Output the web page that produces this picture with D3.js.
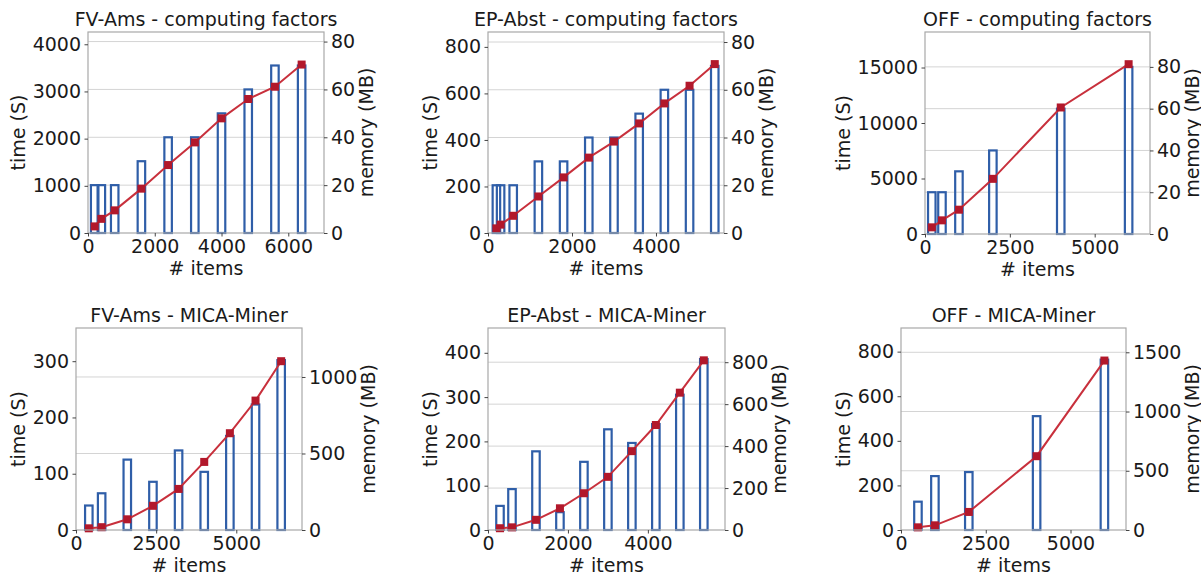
<!DOCTYPE html>
<html>
<head>
<meta charset="utf-8">
<script src="https://cdn.jsdelivr.net/npm/d3@7/dist/d3.min.js"></script>
<style>
  body { margin: 0; background: #fff; }
  text { font-family: "DejaVu Sans", sans-serif; fill: #1a1a1a; }
</style>
</head>
<body>
<div id="chart"></div>
<script>
// FV-Ams - computing factors
const fvCfItems = [200, 400, 800, 1600, 2400, 3200, 4000, 4800, 5600, 6400];
const fvCfMemory = [20, 20, 20, 30, 40, 40, 50, 60, 70, 70];
const fvCfTime = [140, 300, 480, 940, 1440, 1920, 2430, 2840, 3100, 3570];

// EP-Abst - computing factors
const epCfItems = [200, 300, 600, 1200, 1800, 2400, 3000, 3600, 4200, 4800, 5400];
const epCfMemory = [20, 20, 20, 30, 30, 40, 40, 50, 60, 60, 70];
const epCfTime = [20, 36, 74, 157, 239, 324, 393, 471, 557, 633, 726];

// OFF - computing factors
const offCfItems = [200, 500, 1000, 2000, 4000, 6000];
const offCfMemory = [20, 20, 30, 40, 60, 80];
const offCfTime = [600, 1230, 2190, 4970, 11400, 15300];

// FV-Ams - MICA-Miner
const fvMmItems = [400, 800, 1600, 2400, 3200, 4000, 4800, 5600, 6400];
const fvMmMemory = [160, 240, 460, 315, 520, 380, 615, 820, 1110];
const fvMmTime = [3, 5, 19, 43, 73, 121, 172, 230, 300];

// EP-Abst - MICA-Miner
const epMmItems = [300, 600, 1200, 1800, 2400, 3000, 3600, 4200, 4800, 5400];
const epMmMemory = [115, 195, 375, 85, 325, 480, 415, 505, 645, 815];
const epMmTime = [4, 6, 23, 49, 83, 120, 178, 237, 310, 383];

// OFF - MICA-Miner
const offMmItems = [500, 1000, 2000, 4000, 6000];
const offMmMemory = [239, 455, 489, 961, 1438];
const offMmTime = [12, 21, 81, 331, 760];

// tick values
const xTicks2000 = [0, 2000, 4000, 6000];
const xTicks2500 = [0, 2500, 5000];
const memTicks80 = [0, 20, 40, 60, 80];

const panels = [
  { title: 'FV-Ams - computing factors', items: fvCfItems, memory: fvCfMemory, time: fvCfTime,
    xTicks: xTicks2000, timeTicks: [0, 1000, 2000, 3000, 4000], memTicks: memTicks80,
    xMax: 7070, timeMax: 4260, memMax: 84, left: 88, top: 32, width: 236, height: 201 },
  { title: 'EP-Abst - computing factors', items: epCfItems, memory: epCfMemory, time: epCfTime,
    xTicks: [0, 2000, 4000], timeTicks: [0, 200, 400, 600, 800], memTicks: memTicks80,
    xMax: 5620, timeMax: 864, memMax: 84.2, left: 488, top: 32, width: 236, height: 201 },
  { title: 'OFF - computing factors', items: offCfItems, memory: offCfMemory, time: offCfTime,
    xTicks: xTicks2500, timeTicks: [0, 5000, 10000, 15000], memTicks: memTicks80,
    xMax: 6630, timeMax: 18200, memMax: 96.7, left: 925, top: 32, width: 225, height: 202 },
  { title: 'FV-Ams - MICA-Miner', items: fvMmItems, memory: fvMmMemory, time: fvMmTime,
    xTicks: xTicks2500, timeTicks: [0, 100, 200, 300], memTicks: [0, 500, 1000],
    xMax: 7050, timeMax: 359, memMax: 1320, left: 76, top: 328, width: 226, height: 202 },
  { title: 'EP-Abst - MICA-Miner', items: epMmItems, memory: epMmMemory, time: epMmTime,
    xTicks: [0, 2000, 4000], timeTicks: [0, 100, 200, 300, 400], memTicks: [0, 200, 400, 600, 800],
    xMax: 5930, timeMax: 456, memMax: 963, left: 488, top: 328, width: 237, height: 202 },
  { title: 'OFF - MICA-Miner', items: offMmItems, memory: offMmMemory, time: offMmTime,
    xTicks: xTicks2500, timeTicks: [0, 200, 400, 600, 800], memTicks: [0, 500, 1000, 1500],
    xMax: 6637, timeMax: 906, memMax: 1705, left: 901, top: 328, width: 225, height: 202 },
];

const W = 1201, H = 574;
const fontSize = 19;
const barColor = '#2f5ea8';
const lineColor = '#c8303c';
const markerColor = '#b2182b';
const barWidth = 7.5;
const markerSize = 8;

const svg = d3.select('#chart')
  .append('svg')
  .attr('width', W)
  .attr('height', H)
  .attr('xmlns', 'http://www.w3.org/2000/svg');

svg.append('rect').attr('width', W).attr('height', H).attr('fill', '#fff');

const plotPanel = (p) => {
  const g = svg.append('g').attr('transform', `translate(${p.left},${p.top})`);
  const w = p.width, h = p.height;

  const x = d3.scaleLinear().domain([0, p.xMax]).range([0, w]);
  const yTime = d3.scaleLinear().domain([0, p.timeMax]).range([h, 0]);
  const yMem = d3.scaleLinear().domain([0, p.memMax]).range([h, 0]);

  // grid follows the memory axis
  g.append('g')
    .selectAll('line')
    .data(p.memTicks.filter(d => d > 0))
    .enter()
    .append('line')
    .attr('x1', 0)
    .attr('x2', w)
    .attr('y1', d => yMem(d))
    .attr('y2', d => yMem(d))
    .attr('stroke', '#d4d4d4')
    .attr('stroke-width', 1);

  // memory bars
  g.append('g')
    .selectAll('rect')
    .data(p.items)
    .enter()
    .append('rect')
    .attr('x', d => x(d) - barWidth / 2)
    .attr('y', (d, i) => yMem(p.memory[i]))
    .attr('width', barWidth)
    .attr('height', (d, i) => h - yMem(p.memory[i]))
    .attr('fill', 'none')
    .attr('stroke', barColor)
    .attr('stroke-width', 2.2);

  // time line
  const line = d3.line()
    .x(d => x(d[0]))
    .y(d => yTime(d[1]));
  const pts = p.items.map((d, i) => [d, p.time[i]]);

  g.append('path')
    .datum(pts)
    .attr('d', line)
    .attr('fill', 'none')
    .attr('stroke', lineColor)
    .attr('stroke-width', 2);

  g.append('g')
    .selectAll('rect')
    .data(pts)
    .enter()
    .append('rect')
    .attr('x', d => x(d[0]) - markerSize / 2)
    .attr('y', d => yTime(d[1]) - markerSize / 2)
    .attr('width', markerSize)
    .attr('height', markerSize)
    .attr('fill', markerColor);

  // frame
  g.append('rect')
    .attr('width', w)
    .attr('height', h)
    .attr('fill', 'none')
    .attr('stroke', '#a8a8a8')
    .attr('stroke-width', 1.2);

  const styleAxis = (sel) => {
    sel.select('.domain').remove();
    sel.selectAll('line').attr('stroke', '#444');
    sel.selectAll('text')
      .style('font-size', `${fontSize}px`)
      .attr('fill', '#1a1a1a');
  };

  g.append('g')
    .attr('transform', `translate(0,${h})`)
    .call(d3.axisBottom(x).tickValues(p.xTicks).tickSize(3.5).tickPadding(3.5).tickFormat(d3.format('d')))
    .call(styleAxis);

  const leftAxis = g.append('g')
    .call(d3.axisLeft(yTime).tickValues(p.timeTicks).tickSize(3.5).tickPadding(3.5).tickFormat(d3.format('d')))
    .call(styleAxis);

  const rightAxis = g.append('g')
    .attr('transform', `translate(${w},0)`)
    .call(d3.axisRight(yMem).tickValues(p.memTicks).tickSize(3.5).tickPadding(3.5).tickFormat(d3.format('d')))
    .call(styleAxis);

  // title
  g.append('text')
    .attr('x', w / 2)
    .attr('y', -6)
    .attr('text-anchor', 'middle')
    .style('font-size', `${fontSize}px`)
    .text(p.title);

  // x label
  g.append('text')
    .attr('x', w / 2)
    .attr('y', h + 42)
    .attr('text-anchor', 'middle')
    .style('font-size', `${fontSize}px`)
    .text('# items');

  const lb = leftAxis.node().getBBox();
  g.append('text')
    .attr('transform', `translate(${lb.x - 8},${h / 2}) rotate(-90)`)
    .attr('text-anchor', 'middle')
    .style('font-size', `${fontSize}px`)
    .text('time (S)');

  const rb = rightAxis.node().getBBox();
  g.append('text')
    .attr('transform', `translate(${w + rb.x + rb.width + 18},${h / 2}) rotate(-90)`)
    .attr('text-anchor', 'middle')
    .style('font-size', `${fontSize}px`)
    .text('memory (MB)');
};

panels.forEach(plotPanel);
</script>
</body>
</html>
